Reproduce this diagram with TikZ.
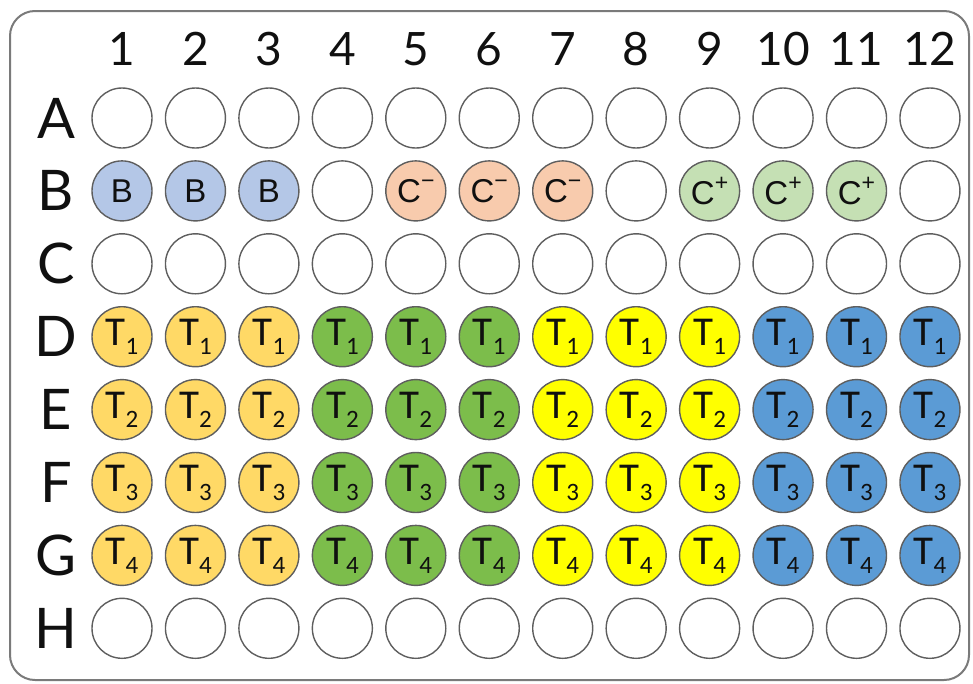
\documentclass[tikz,border=0pt]{standalone}
\usepackage{fontspec}
\setmainfont{Liberation Sans}
\newfontfamily\latofont{Lato}
\newfontfamily\carlfont{Carlito}
\definecolor{wellgray}{HTML}{5E5E5E}
\definecolor{plategray}{HTML}{7A7A7A}
\definecolor{cBlank}{HTML}{B4C7E7}
\definecolor{cNeg}{HTML}{F8CBAD}
\definecolor{cPos}{HTML}{C5E0B4}
\definecolor{cGold}{HTML}{FFD966}
\definecolor{cGreen}{HTML}{7CBD4B}
\definecolor{cYellow}{HTML}{FFFF00}
\definecolor{cBlue}{HTML}{5B9BD5}
\definecolor{txt}{HTML}{101010}
\newcommand\Tsub[1]{T\raisebox{-0.22em}{\fontsize{25}{25}\selectfont #1}}
\newcommand\Cminus{C\raisebox{0.42em}{\fontsize{23}{23}\selectfont −}}
\newcommand\Cplus{C\raisebox{0.42em}{\fontsize{23}{23}\selectfont +}}
\begin{document}
\begin{tikzpicture}[x=1pt,y=-1pt,
  well/.style={circle, draw=wellgray, line width=1.4pt, minimum size=60pt, inner sep=0pt, text=txt, font=\fontsize{33}{33}\selectfont},
  twell/.style={well, font=\carlfont\fontsize{41}{41}\selectfont},
  collab/.style={font=\latofont\fontsize{46}{46}\selectfont, inner sep=0pt, text=txt},
  rowlab/.style={font=\latofont\fontsize{56}{56}\selectfont, inner sep=0pt, text=txt}]
\useasboundingbox (0,0) rectangle (973,683);
\draw[plategray, line width=2pt, rounded corners=25pt] (10,11) rectangle (969,680);
% column labels
\foreach \c in {1,...,12}
  \node[collab] (col\c) at ({122+(\c-1)*73.45},49) {\c};
% row labels
\foreach \r/\n in {1/A,2/B,3/C,4/D,5/E,6/F,7/G,8/H}
  \node[rowlab] (row\n) at (56,{118+(\r-1)*72.9}) {\n};
% empty rows
\foreach \r/\n in {1/A,3/C,8/H}
  \foreach \c in {1,...,12}
    \node[well] (w\n\c) at ({122+(\c-1)*73.45},{118+(\r-1)*72.9}) {};
% row B
\foreach \c/\f/\t in {1/cBlank/B,2/cBlank/B,3/cBlank/B,4/white/{},5/cNeg/\Cminus,6/cNeg/\Cminus,7/cNeg/\Cminus,8/white/{},9/cPos/\Cplus,10/cPos/\Cplus,11/cPos/\Cplus,12/white/{}}
  \node[well, fill=\f] (wB\c) at ({122+(\c-1)*73.45},{118+72.9}) {\t};
% rows D-G
\foreach \r/\n/\k in {4/D/1,5/E/2,6/F/3,7/G/4}
  \foreach \c/\f in {1/cGold,2/cGold,3/cGold,4/cGreen,5/cGreen,6/cGreen,7/cYellow,8/cYellow,9/cYellow,10/cBlue,11/cBlue,12/cBlue}
    \node[twell, fill=\f] (w\n\c) at ({122+(\c-1)*73.45},{118+(\r-1)*72.9}) {\Tsub{\k}};
\end{tikzpicture}
\end{document}
